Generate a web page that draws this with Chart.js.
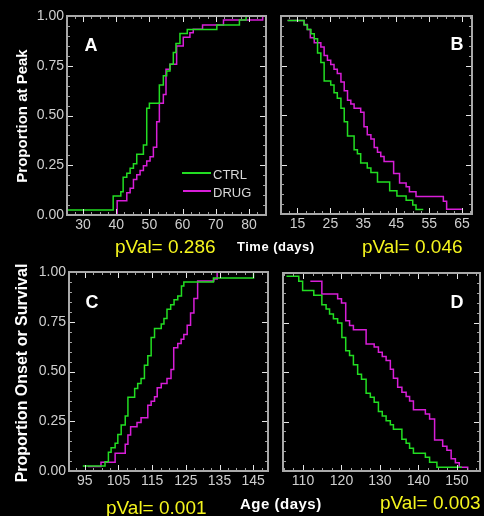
<!DOCTYPE html>
<html>
<head>
<meta charset="utf-8">
<script src="https://cdn.jsdelivr.net/npm/chart.js@4.4.1/dist/chart.umd.min.js"></script>
<style>
  html, body { margin: 0; padding: 0; background: #000; }
  #wrap { position: relative; width: 484px; height: 516px; overflow: hidden; background: #000;
          font-family: "Liberation Sans", Arial, sans-serif; }
  canvas { position: absolute; left: 0; top: 0; }
  .t { position: absolute; white-space: nowrap; line-height: 1; }
  .ytitle { font-weight: bold; color: #fff; transform: translate(-50%, -50%) rotate(-90deg); }
  .letter { font-weight: bold; font-size: 18px; color: #fff; transform: translate(-50%, -50%); }
  .pv { font-size: 19px; color: #f5f51e; transform: translateY(-50%); }
  .xt { font-weight: bold; color: #fff; letter-spacing: 0.5px; transform: translateY(-50%); }
  .lg { font-size: 13px; color: #d8d8d8; transform: translateY(-50%); }
  .lgline { position: absolute; height: 2px; }
</style>
</head>
<body>
<div id="wrap">
  <canvas id="cA" width="484" height="516"></canvas>
  <canvas id="cB" width="484" height="516"></canvas>
  <canvas id="cC" width="484" height="516"></canvas>
  <canvas id="cD" width="484" height="516"></canvas>

  <div class="t ytitle" style="left:21px;top:116px;font-size:15px;">Proportion at Peak</div>
  <div class="t ytitle" style="left:22px;top:373px;font-size:16px;">Proportion Onset or Survival</div>

  <div class="t letter" style="left:91px;top:45px;">A</div>
  <div class="t letter" style="left:457px;top:44px;">B</div>
  <div class="t letter" style="left:92px;top:302px;">C</div>
  <div class="t letter" style="left:457px;top:302px;">D</div>

  <div class="lgline" style="left:182px;top:172px;width:29px;background:#22dd22;"></div>
  <div class="t lg" style="left:213px;top:174px;">CTRL</div>
  <div class="lgline" style="left:183px;top:190px;width:28px;background:#d81ed8;"></div>
  <div class="t lg" style="left:213px;top:192px;">DRUG</div>

  <div class="t pv" style="left:115px;top:246px;">pVal= 0.286</div>
  <div class="t xt" style="left:237px;top:246px;font-size:13px;">Time (days)</div>
  <div class="t pv" style="left:362px;top:246px;">pVal= 0.046</div>

  <div class="t pv" style="left:106px;top:507px;">pVal= 0.001</div>
  <div class="t xt" style="left:240px;top:503px;font-size:15px;">Age (days)</div>
  <div class="t pv" style="left:380px;top:502px;">pVal= 0.003</div>
</div>

<script>
// panel A - time to peak
var aCtrlT = [25.2, 39.1, 41.4, 42.1, 43.2, 44.2, 45.2, 46.2, 48.2, 49.2, 50.0, 53.0, 54.2, 55.2, 56.2, 57.2, 58.0, 59.2, 61.4, 70.3, 77.1, 79.1, 85.1];
var aCtrlP = [0.025, 0.095, 0.117, 0.19, 0.21, 0.235, 0.258, 0.305, 0.352, 0.536, 0.561, 0.653, 0.70, 0.723, 0.758, 0.817, 0.862, 0.912, 0.932, 0.955, 0.98, 1.0, 1.0];
var aDrugT = [40.3, 40.3, 43.2, 44.2, 45.2, 46.2, 47.2, 48.2, 49.2, 50.2, 51.2, 52.2, 53.0, 54.2, 55.0, 56.2, 58.2, 60.2, 62.2, 63.2, 66.0, 72.3, 84.1, 85.1];
var aDrugP = [0, 0.072, 0.112, 0.134, 0.179, 0.202, 0.224, 0.248, 0.271, 0.293, 0.34, 0.469, 0.561, 0.606, 0.732, 0.757, 0.849, 0.893, 0.916, 0.934, 0.955, 0.98, 1.0, 1.0];

// panel B - time from peak
var bCtrlT = [12.0, 17.0, 18.0, 19.1, 20.1, 21.1, 22.1, 23.1, 25.1, 26.1, 27.1, 28.2, 29.2, 30.2, 32.2, 33.2, 34.2, 36.2, 37.3, 39.3, 43.0, 45.2, 48.0, 50.0, 51.0, 53.2];
var bCtrlP = [0.977, 0.955, 0.932, 0.91, 0.885, 0.813, 0.765, 0.672, 0.651, 0.612, 0.584, 0.534, 0.466, 0.394, 0.324, 0.304, 0.257, 0.232, 0.21, 0.162, 0.118, 0.091, 0.07, 0.046, 0.023, 0.023];
var bDrugT = [12.0, 17.0, 18.0, 18.9, 20.1, 22.1, 23.1, 24.1, 25.1, 26.1, 27.1, 28.2, 29.2, 30.2, 31.2, 32.2, 34.2, 35.2, 36.2, 37.3, 38.3, 39.3, 40.3, 41.3, 44.2, 46.0, 48.0, 49.0, 51.0, 59.3, 60.3, 64.9];
var bDrugP = [0.977, 0.957, 0.932, 0.89, 0.865, 0.843, 0.80, 0.776, 0.755, 0.731, 0.71, 0.667, 0.622, 0.575, 0.555, 0.534, 0.514, 0.441, 0.40, 0.379, 0.336, 0.312, 0.29, 0.265, 0.204, 0.157, 0.137, 0.113, 0.088, 0.064, 0.024, 0.024];

// panel C - onset
var cCtrlT = [94.4, 101.0, 102.0, 102.8, 104.0, 104.8, 105.8, 107.0, 107.8, 109.8, 110.7, 111.7, 112.7, 113.7, 114.7, 115.7, 117.7, 118.5, 119.4, 120.5, 121.5, 122.6, 123.7, 124.4, 133.2, 145.1, 149.4];
var cCtrlP = [0.025, 0.047, 0.094, 0.117, 0.139, 0.184, 0.231, 0.276, 0.37, 0.415, 0.44, 0.465, 0.532, 0.579, 0.671, 0.716, 0.739, 0.766, 0.813, 0.836, 0.86, 0.88, 0.93, 0.95, 0.97, 1.0, 1.0];
var cDrugT = [95.9, 99.8, 104.0, 107.0, 107.8, 108.6, 110.5, 111.7, 113.7, 114.7, 115.7, 116.5, 117.7, 119.4, 120.6, 121.4, 122.6, 123.6, 124.4, 125.4, 126.4, 127.4, 128.5, 133.3, 134.3, 149.4];
var cDrugP = [0.022, 0.044, 0.089, 0.134, 0.181, 0.222, 0.244, 0.267, 0.331, 0.351, 0.373, 0.418, 0.44, 0.465, 0.51, 0.619, 0.641, 0.662, 0.686, 0.733, 0.794, 0.867, 0.955, 0.965, 1.0, 1.0];

// panel D - survival
var dCtrlT = [105.7, 108.9, 109.9, 112.8, 114.9, 116.0, 116.9, 117.9, 119.0, 120.1, 121.1, 122.1, 123.1, 124.2, 125.2, 126.4, 127.5, 128.5, 129.6, 130.6, 131.6, 132.7, 133.5, 135.7, 136.8, 137.7, 138.7, 141.8, 142.9, 144.8, 151.3];
var dCtrlP = [0.983, 0.958, 0.912, 0.887, 0.84, 0.818, 0.793, 0.769, 0.747, 0.674, 0.607, 0.583, 0.536, 0.489, 0.464, 0.393, 0.373, 0.347, 0.30, 0.278, 0.254, 0.233, 0.211, 0.16, 0.14, 0.115, 0.09, 0.069, 0.044, 0.019, 0.019];
var dDrugT = [111.9, 114.9, 119.0, 120.0, 121.1, 122.1, 123.1, 126.4, 128.5, 129.6, 130.6, 131.6, 132.7, 133.5, 134.6, 135.7, 136.8, 137.7, 138.7, 141.8, 142.9, 144.2, 146.3, 147.4, 148.5, 149.6, 150.6, 152.8, 152.8];
var dDrugP = [0.958, 0.894, 0.87, 0.848, 0.759, 0.735, 0.713, 0.642, 0.626, 0.60, 0.578, 0.558, 0.514, 0.469, 0.423, 0.398, 0.376, 0.354, 0.309, 0.288, 0.262, 0.157, 0.125, 0.105, 0.062, 0.042, 0.019, 0, 0];

var aTicks = [30, 40, 50, 60, 70, 80];
var bTicks = [15, 25, 35, 45, 55, 65];
var cTicks = [95, 105, 115, 125, 135, 145];
var dTicks = [110, 120, 130, 140, 150];
var yTicks = [0, 0.25, 0.5, 0.75, 1];

var GREEN = '#22dd22';
var MAGENTA = '#d81ed8';
var LABEL = '#cfcfcf';

function pts(t, p) {
    var out = [];
    for (var i = 0; i < t.length; i++) out.push({x: t[i], y: p[i]});
    return out;
}

// frame round the plot with inward ticks on all four sides
var frameTicks = {
    id: 'frameTicks',
    afterDatasetsDraw: function(chart, args, opts) {
        var ctx = chart.ctx, a = chart.chartArea;
        var x = chart.scales.x, y = chart.scales.y;
        ctx.save();
        ctx.lineWidth = 1;
        var v, px, major, len;
        for (v = Math.ceil(x.min / 2.5) * 2.5; v <= x.max + 1e-6; v += 2.5) {
            px = Math.round(x.getPixelForValue(v)) + 0.5;
            major = opts.xMajor.indexOf(v) >= 0;
            len = major ? 6 : 3;
            ctx.strokeStyle = major ? '#e6e6e6' : '#a0a0a0';
            ctx.beginPath();
            ctx.moveTo(px, a.bottom); ctx.lineTo(px, a.bottom - len);
            ctx.moveTo(px, a.top); ctx.lineTo(px, a.top + len);
            ctx.stroke();
        }
        for (var k = 0; k <= 20; k++) {
            v = k * 0.05;
            px = Math.round(y.getPixelForValue(v)) + 0.5;
            major = k % 5 === 0;
            len = major ? 6 : 3;
            ctx.strokeStyle = major ? '#e6e6e6' : '#a0a0a0';
            ctx.beginPath();
            ctx.moveTo(a.left, px); ctx.lineTo(a.left + len, px);
            ctx.moveTo(a.right, px); ctx.lineTo(a.right - len, px);
            ctx.stroke();
        }
        ctx.lineWidth = 2;
        ctx.strokeStyle = '#a9a9a9';
        ctx.strokeRect(a.left, a.top, a.right - a.left, a.bottom - a.top);
        ctx.restore();
    }
};

function makePanel(id, p) {
    return new Chart(document.getElementById(id), {
        type: 'line',
        data: {
            datasets: [
                {label: 'CTRL', data: pts(p.ctrlT, p.ctrlP), borderColor: GREEN, borderWidth: 1.5, stepped: true, pointRadius: 0, fill: false},
                {label: 'DRUG', data: pts(p.drugT, p.drugP), borderColor: MAGENTA, borderWidth: 1.5, stepped: true, pointRadius: 0, fill: false}
            ]
        },
        options: {
            responsive: false,
            animation: false,
            events: [],
            layout: {padding: p.pad},
            plugins: {
                legend: {display: false},
                tooltip: {enabled: false},
                frameTicks: {xMajor: p.ticks}
            },
            scales: {
                x: {
                    type: 'linear', min: p.min, max: p.max,
                    grid: {display: false, drawTicks: false},
                    border: {display: false},
                    afterBuildTicks: function(s) { s.ticks = p.ticks.map(function(v) { return {value: v}; }); },
                    afterFit: function(s) { s.height = 20; },
                    ticks: {color: LABEL, padding: 2, maxRotation: 0, autoSkip: false,
                            font: {family: 'Liberation Sans', size: 14, lineHeight: 1.2}}
                },
                y: {
                    type: 'linear', min: 0, max: 1,
                    grid: {display: false, drawTicks: false},
                    border: {display: false},
                    afterBuildTicks: function(s) { s.ticks = yTicks.map(function(v) { return {value: v}; }); },
                    afterFit: function(s) { s.width = p.yWidth; },
                    ticks: {display: p.yWidth > 0, color: LABEL, padding: 3,
                            font: {family: 'Liberation Sans', size: 14},
                            callback: function(v) { return Number(v).toFixed(2); }}
                }
            }
        },
        plugins: [frameTicks]
    });
}

makePanel('cA', {ctrlT: aCtrlT, ctrlP: aCtrlP, drugT: aDrugT, drugP: aDrugP, ticks: aTicks,
    min: 25.2, max: 85.1, yWidth: 67, pad: {left: 0, top: 16, right: 218, bottom: 281}});
makePanel('cB', {ctrlT: bCtrlT, ctrlP: bCtrlP, drugT: bDrugT, drugP: bDrugP, ticks: bTicks,
    min: 10, max: 68, yWidth: 0, pad: {left: 281, top: 16, right: 12, bottom: 282}});
makePanel('cC', {ctrlT: cCtrlT, ctrlP: cCtrlP, drugT: cDrugT, drugP: cDrugP, ticks: cTicks,
    min: 90.3, max: 149.4, yWidth: 69, pad: {left: 0, top: 272, right: 216, bottom: 25}});
makePanel('cD', {ctrlT: dCtrlT, ctrlP: dCtrlP, drugT: dDrugT, drugP: dDrugP, ticks: dTicks,
    min: 104.8, max: 156, yWidth: 0, pad: {left: 283, top: 273, right: 4, bottom: 25}});
</script>
</body>
</html>
